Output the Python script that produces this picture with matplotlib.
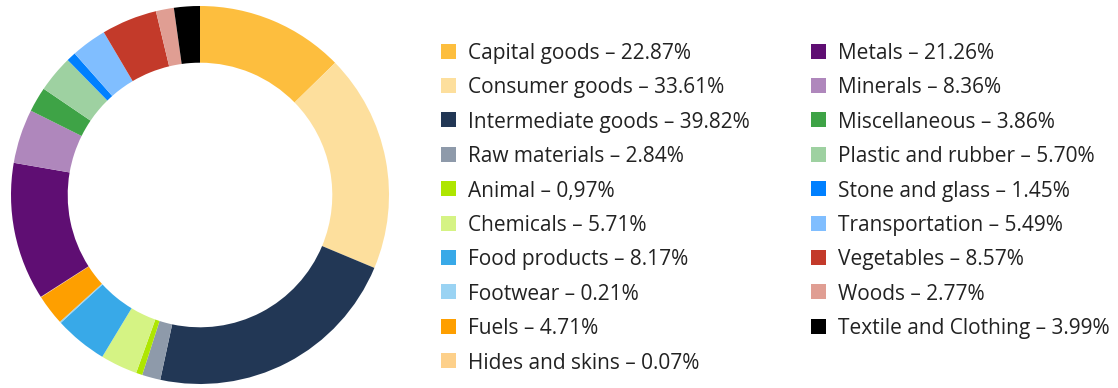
import matplotlib.pyplot as plt
from matplotlib.patches import Rectangle

plt.rcParams['font.family'] = ['Open Sans', 'DejaVu Sans']

categories = ["Capital goods", "Consumer goods", "Intermediate goods", "Raw materials",
              "Animal", "Chemicals", "Food products", "Footwear", "Fuels",
              "Hides and skins", "Metals", "Minerals", "Miscellaneous",
              "Plastic and rubber", "Stone and glass", "Transportation",
              "Vegetables", "Woods", "Textile and Clothing"]
shares = [22.87, 33.61, 39.82, 2.84, 0.97, 5.71, 8.17, 0.21, 4.71, 0.07,
          21.26, 8.36, 3.86, 5.70, 1.45, 5.49, 8.57, 2.77, 3.99]
share_labels = ["22.87%", "33.61%", "39.82%", "2.84%", "0,97%", "5.71%", "8.17%",
                "0.21%", "4.71%", "0.07%", "21.26%", "8.36%", "3.86%", "5.70%",
                "1.45%", "5.49%", "8.57%", "2.77%", "3.99%"]
colors = ["#FDBE3E", "#FDDF9D", "#223755", "#8E9AAA", "#AEE600", "#D5F384",
          "#38A9E8", "#9AD3F3", "#FE9F00", "#FDD08A", "#5F0E73", "#AF87BC",
          "#3EA346", "#9ED1A1", "#0080FF", "#80BEFF", "#C33A2A", "#E09E93",
          "#000000"]

W, H = 1118, 388
fig = plt.figure(figsize=(W / 100, H / 100), dpi=100)

# donut
cx, cy, r = 200, 193, 189
ax = fig.add_axes([(cx - r) / W, (cy - r) / H, 2 * r / W, 2 * r / H])
ax.pie(shares, colors=colors, startangle=90, counterclock=False, radius=1,
       wedgeprops=dict(width=0.30, linewidth=0))
ax.set_xlim(-1, 1)
ax.set_ylim(-1, 1)
ax.set_aspect('equal')
ax.axis('off')

# legend in two columns
col_x = [441, 811]
row_y0, row_dy = 51, 34.4
sq = 15
for i, (cat, lab, c) in enumerate(zip(categories, share_labels, colors)):
    col, row = divmod(i, 10)
    x = col_x[col]
    y = H - (row_y0 + row * row_dy)
    fig.add_artist(Rectangle((x / W, (y - sq / 2) / H), sq / W, sq / H,
                             transform=fig.transFigure, color=c, lw=0))
    fig.text((x + 27) / W, y / H, f"{cat} \u2013 {lab}", fontsize=15,
             color="#222222", va="center_baseline", ha="left")

fig.savefig("out.png", dpi=100)
